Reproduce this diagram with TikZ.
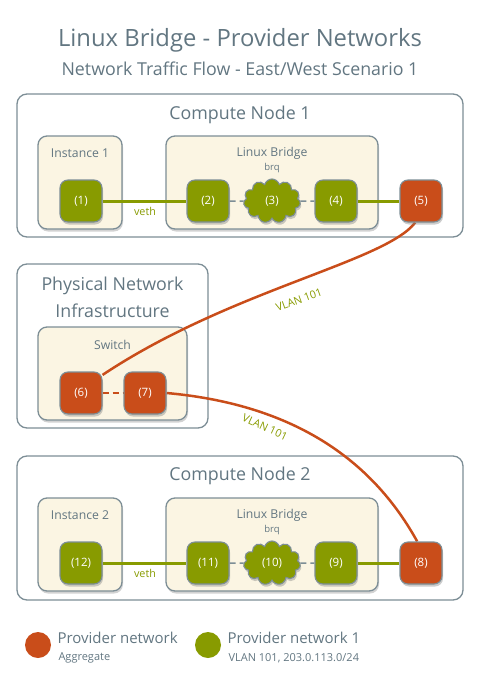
\documentclass[tikz,border=0pt]{standalone}
\usepackage{xcolor}
\usepackage{fontspec}
\setmainfont{Open Sans}
\usepackage{tikz}
\usetikzlibrary{positioning,shapes,shadows}
\definecolor{provorange}{HTML}{C94D1A}
\definecolor{provgreen}{HTML}{889B00}
\definecolor{framegray}{HTML}{7D8E96}
\definecolor{textgray}{HTML}{627681}
\definecolor{cream}{HTML}{FBF5E3}
\pgfdeclarelayer{back}
\pgfdeclarelayer{mid}
\pgfsetlayers{back,mid,main}
\tikzset{
  hostbox/.style={draw=framegray, line width=1.3pt, rounded corners=10pt, fill=white},
  innerbox/.style={draw=framegray, line width=1.3pt, rounded corners=9pt, fill=cream,
    drop shadow={shadow xshift=1pt, shadow yshift=-2.5pt, opacity=0.35}},
  port/.style={draw=framegray, line width=1.1pt, rounded corners=8pt, minimum width=42pt,
    minimum height=42pt, inner sep=0pt, text=white, font=\fontsize{11.5}{13}\selectfont,
    drop shadow={shadow xshift=1pt, shadow yshift=-2.5pt, opacity=0.4}},
  greenport/.style={port, fill=provgreen},
  orangeport/.style={port, fill=provorange},
  brqcloud/.style={cloud, cloud puffs=11, aspect=1.35, inner sep=0pt, minimum width=57pt,
    minimum height=44pt, fill=provgreen, draw=framegray, line width=1.1pt, text=white,
    font=\fontsize{11.5}{13}\selectfont,
    drop shadow={shadow xshift=1pt, shadow yshift=-2.5pt, opacity=0.4}},
  hosttitle/.style={text=textgray, font=\fontsize{17.8}{20}\selectfont},
  boxtitle/.style={text=textgray, font=\fontsize{12.2}{14}\selectfont},
  vlanlabel/.style={text=provgreen, font=\fontsize{10.8}{12}\selectfont},
  greenlink/.style={provgreen, line width=3pt},
  vlanlink/.style={provorange, line width=2.5pt},
  dashlink/.style={framegray, line width=1.5pt, dash pattern=on 6pt off 4pt}
}

\begin{document}
\begin{tikzpicture}[x=1pt,y=-1pt]
\useasboundingbox (0,0) rectangle (480,688);
\node[text=textgray, font=\fontsize{23.8}{28}\selectfont] (title) at (240,40) {Linux Bridge - Provider Networks};
\node[text=textgray, font=\fontsize{17.8}{21}\selectfont] (subtitle) at (240,69) {Network Traffic Flow - East/West Scenario 1};

% boxes
\begin{pgfonlayer}{back}
\node[hostbox, minimum width=446pt, minimum height=143pt] (cn1) at (240,165.5) {};
\node[innerbox, minimum width=84pt, minimum height=93pt] (inst1) at (80,182.5) {};
\node[innerbox, minimum width=212pt, minimum height=93pt] (lb1) at (272,182.5) {};
\node[hostbox, minimum width=191pt, minimum height=164pt] (phys) at (112.5,346) {};
\node[innerbox, minimum width=149pt, minimum height=93pt] (switch) at (112.5,373.5) {};
\node[hostbox, minimum width=446pt, minimum height=144pt] (cn2) at (240,528) {};
\node[innerbox, minimum width=84pt, minimum height=93pt] (inst2) at (80,544.5) {};
\node[innerbox, minimum width=212pt, minimum height=93pt] (lb2) at (272,544.5) {};
\end{pgfonlayer}

\node[hosttitle] (cn1title) at (240,115) {Compute Node 1};
\node[boxtitle] (inst1title) at (80,153) {Instance 1};
\node[boxtitle] (lb1title) at (272,153) {Linux Bridge};
\node[boxtitle, font=\fontsize{9.5}{11}\selectfont] (lb1brq) at (272,168) {brq};
\node[hosttitle, align=center, font=\fontsize{17.8}{27}\selectfont] (physttitle) at (112.5,297.5) {Physical Network\\Infrastructure};
\node[boxtitle] (switchtitle) at (112.5,345) {Switch};
\node[hosttitle] (cn2title) at (240,476) {Compute Node 2};
\node[boxtitle] (inst2title) at (80,515) {Instance 2};
\node[boxtitle] (lb2title) at (272,515) {Linux Bridge};
\node[boxtitle, font=\fontsize{9.5}{11}\selectfont] (lb2brq) at (272,530) {brq};

% ports
\node[greenport] (p1) at (81,201) {(1)};
\node[greenport] (p2) at (208,201) {(2)};
\node[brqcloud] (p3) at (272,201) {(3)};
\node[greenport] (p4) at (336,201) {(4)};
\node[orangeport] (p5) at (421,201) {(5)};
\node[orangeport] (p6) at (81,393) {(6)};
\node[orangeport] (p7) at (145,393) {(7)};
\node[orangeport] (p8) at (421,563) {(8)};
\node[greenport] (p9) at (336,563) {(9)};
\node[brqcloud] (p10) at (272,563) {(10)};
\node[greenport] (p11) at (208,563) {(11)};
\node[greenport] (p12) at (81,563) {(12)};

% links
\begin{pgfonlayer}{mid}
\draw[greenlink] (p1) -- (p2);
\draw[dashlink] (p2) -- (p3) -- (p4);
\draw[greenlink] (p4) -- (p5);
\draw[greenlink] (p12) -- (p11);
\draw[dashlink] (p11) -- (p10) -- (p9);
\draw[greenlink] (p9) -- (p8);
\draw[provorange, line width=1.5pt, dash pattern=on 6pt off 4pt] (p6) -- (p7);
\draw[vlanlink] (p5.-105) .. controls (385,262) and (230,290) .. (p6.40);
\draw[vlanlink] (p7.east) .. controls (300,405) and (375,465) .. (p8.100);
\end{pgfonlayer}

\node[vlanlabel] (veth1) at (145,211) {veth};
\node[vlanlabel] (veth2) at (145,573) {veth};
\node[vlanlabel, rotate=20] (vlan1) at (299,300) {VLAN 101};
\node[vlanlabel, rotate=-25] (vlan2) at (265,427) {VLAN 101};

% legend
\node[circle, fill=provorange, minimum size=26pt, inner sep=0pt] (legorange) at (38,645) {};
\node[anchor=west, text=textgray, font=\fontsize{15}{17}\selectfont] (legorangename) at (54,638) {Provider network};
\node[anchor=west, text=textgray, font=\fontsize{11}{13}\selectfont] (legorangesub) at (55,658) {Aggregate};
\node[circle, fill=provgreen, minimum size=26pt, inner sep=0pt] (leggreen) at (208,645) {};
\node[anchor=west, text=textgray, font=\fontsize{15}{17}\selectfont] (leggreenname) at (224,638) {Provider network 1};
\node[anchor=west, text=textgray, font=\fontsize{11}{13}\selectfont] (leggreensub) at (225,658) {VLAN 101, 203.0.113.0/24};
\end{tikzpicture}
\end{document}
